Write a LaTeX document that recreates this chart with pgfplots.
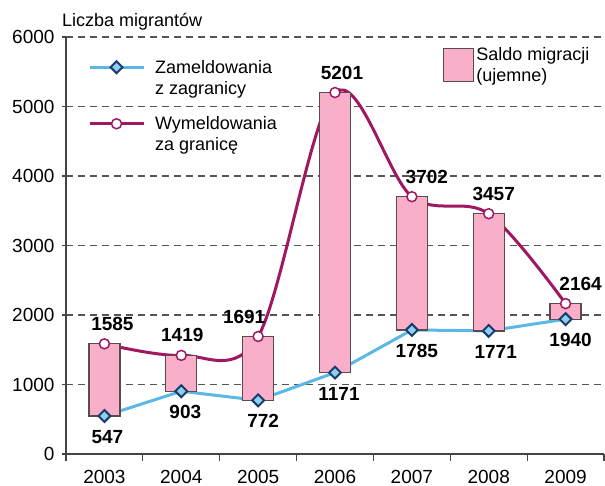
\documentclass[border=0pt]{standalone}
\usepackage{pgfplots}
\pgfplotsset{compat=1.18}
\usepackage{pgfplotstable}
\usepackage{fontspec}
\setmainfont{Liberation Sans}
\definecolor{pinkfill}{HTML}{F9AFC9}
\definecolor{barborder}{HTML}{5B4B4F}
\definecolor{purp}{HTML}{A01862}
\definecolor{blueline}{HTML}{5BB8E6}
\definecolor{bluefill}{HTML}{8CCFF0}
\definecolor{navy}{HTML}{1B3C6B}
\definecolor{gridc}{HTML}{555555}
\definecolor{axc}{HTML}{444444}

\pgfplotstableread{
i zam wym dxz dxw
0 547 1585 3 8
1 903 1419 4 1
2 772 1691 5 -14
3 1171 5201 4 7
4 1785 3702 5 15
5 1771 3457 7 5
6 1940 2164 5 15
}\data

\pgfplotsset{
  common/.style={
    scale only axis, width=538pt, height=417pt,
    xmin=-0.5, xmax=6.5, ymin=0, ymax=6000,
  }
}
\begin{document}
\begin{tikzpicture}[font=\fontsize{18pt}{21pt}\selectfont]
% background: grid, axes, lines
\begin{axis}[common, name=ax,
  axis lines=left, axis line style={-, axc, line width=1.5pt},
  ytick={0,1000,...,6000},
  /pgf/number format/1000 sep={},
  /pgf/number format/assume math mode=true,
  ymajorgrids, grid style={gridc, dash pattern=on 7pt off 5pt, line width=1.2pt},
  xtick={0,...,6}, xticklabels={2003,2004,2005,2006,2007,2008,2009},
  minor xtick={-0.5,0.5,1.5,...,6.5},
  tick align=outside,
  major tick length=4pt, minor tick length=7pt,
  major x tick style={draw=none},
  tick style={axc, line width=1.2pt},
  xticklabel style={inner sep=0pt, text depth=0pt, yshift=-12pt, font=\fontsize{19pt}{22pt}\selectfont},
  yticklabel style={xshift=-4pt, font=\fontsize{19pt}{22pt}\selectfont},
  clip=false,
]
\addplot[blueline, line width=3pt] table[x=i, y=zam]{\data};
\addplot[purp, line width=3pt, smooth, tension=0.55] table[x=i, y=wym]{\data};
\end{axis}
% bars
\begin{axis}[common, axis lines=none, ybar stacked, bar width=31pt,
  legend image code/.code={\draw[#1] (0pt,-16pt) rectangle (30pt,17pt);},
  legend style={draw=none, fill=none, at={(0.695,0.985)}, anchor=north west,
    cells={align=left, anchor=west}},
]
\addlegendimage{fill=pinkfill, draw=barborder, line width=1.2pt}
\addlegendentry{Saldo migracji\\(ujemne)}
\addplot[draw=none, fill=none] table[x=i, y=zam]{\data};
\addplot[fill=pinkfill, draw=barborder, line width=1.2pt] table[x=i, y expr=\thisrow{wym}-\thisrow{zam}]{\data};
\end{axis}
% markers and labels
\begin{axis}[common, axis lines=none, clip=false,
  legend image code/.code={\path (0pt,-16pt) (0pt,16pt);
    \draw[mark repeat=2,mark phase=2,#1] plot coordinates {(0pt,10.5pt) (27pt,10.5pt) (54pt,10.5pt)};},
  legend style={draw=none, fill=none, at={(0.035,0.955)}, anchor=north west,
    cells={align=left, anchor=west}, row sep=17pt,
    nodes={inner xsep=10pt}},
]
\addlegendimage{blueline, line width=3pt, mark=square*, mark size=4.2pt, mark options={rotate=45, fill=bluefill, draw=navy, line width=2pt}}
\addlegendentry{Zameldowania\\z zagranicy}
\addlegendimage{purp, line width=3pt, mark=*, mark size=5pt, mark options={fill=white, draw=purp, line width=1.5pt}}
\addlegendentry{Wymeldowania\\za granicę}
\addplot[only marks, mark=square*, mark size=4.2pt, mark options={rotate=45, fill=bluefill, draw=navy, line width=2pt},
  point meta=explicit symbolic, nodes near coords,
  visualization depends on={\thisrow{dxz} \as \dx},
  every node near coord/.append style={font=\fontsize{19pt}{22pt}\selectfont\bfseries, text=black, anchor=center, xshift=\dx pt, yshift=-21pt}]
  table[x=i, y=zam, meta=zam]{\data};
\addplot[only marks, mark=*, mark size=5pt, mark options={fill=white, draw=purp, line width=1.5pt},
  point meta=explicit symbolic, nodes near coords,
  visualization depends on={\thisrow{dxw} \as \dx},
  every node near coord/.append style={font=\fontsize{19pt}{22pt}\selectfont\bfseries, text=black, anchor=center, xshift=\dx pt, yshift=20pt}]
  table[x=i, y=wym, meta=wym]{\data};
\end{axis}
\node[anchor=base west, inner sep=0pt] at ([xshift=-4pt, yshift=10pt]ax.north west) {Liczba migrantów};
\pgfresetboundingbox
\path[use as bounding box] ([xshift=-66pt,yshift=-32pt]ax.south west) rectangle ([xshift=1pt,yshift=37pt]ax.north east);
\end{tikzpicture}
\end{document}
